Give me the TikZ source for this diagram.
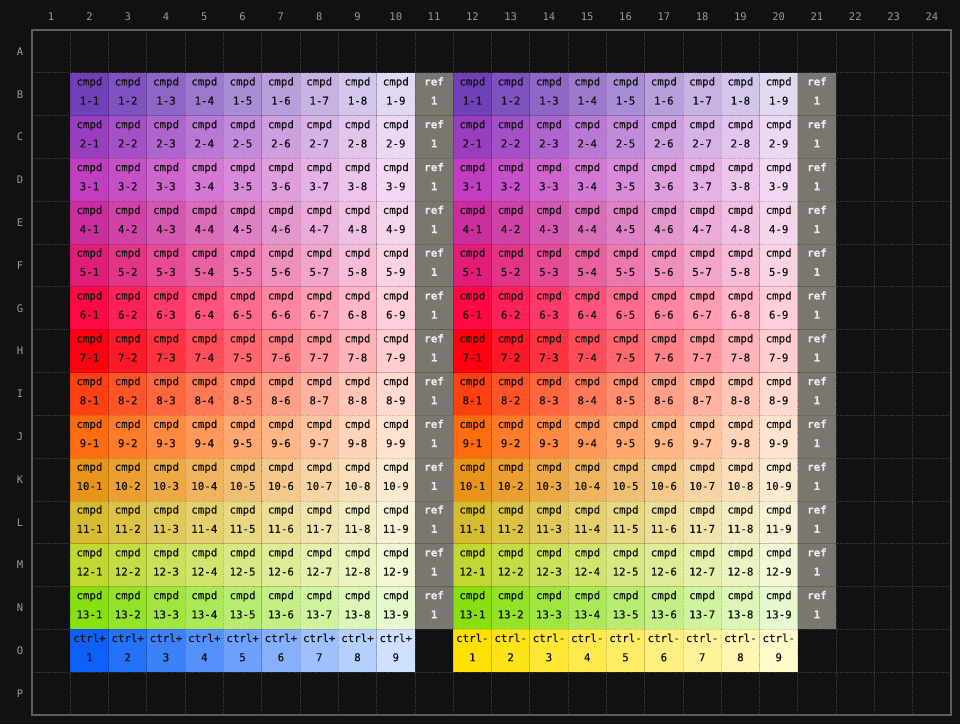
\documentclass[tikz,border=0pt]{standalone}
\usepackage{fontspec}
\setmonofont{DejaVu Sans Mono}
\newfontfamily\cellfont[FakeBold=0.3]{DejaVu Sans Mono}
\newfontfamily\reffont[FakeBold=0.3]{DejaVu Sans Mono Bold}
\definecolor{bg}{HTML}{111111}
\definecolor{gridc}{HTML}{3A3A3A}
\definecolor{framec}{HTML}{5E5E5E}
\definecolor{axisc}{HTML}{9A9A9A}
\definecolor{refc}{HTML}{7A7770}
\definecolor{txtc}{HTML}{121212}
\definecolor{r1}{HTML}{7040B8}
\definecolor{r2}{HTML}{9A3EC0}
\definecolor{r3}{HTML}{C03EC0}
\definecolor{r4}{HTML}{CA2E9C}
\definecolor{r5}{HTML}{E01E78}
\definecolor{r6}{HTML}{FF0844}
\definecolor{r7}{HTML}{FF0010}
\definecolor{r8}{HTML}{FF4010}
\definecolor{r9}{HTML}{FF6C10}
\definecolor{r10}{HTML}{E89418}
\definecolor{r11}{HTML}{D8BC30}
\definecolor{r12}{HTML}{C0D830}
\definecolor{r13}{HTML}{88E010}
\definecolor{r14}{HTML}{0C62F8}
\definecolor{r15}{HTML}{FFE000}
\tikzset{
  gridline/.style={gridc, densely dotted, line width=0.8pt},
  cellborder/.style={draw=black, draw opacity=0.18, densely dotted, line width=0.8pt},
  celltext/.style={anchor=base, inner sep=0pt, text=txtc, font=\cellfont\fontsize{10.8}{12}\selectfont},
  reftext/.style={anchor=base, inner sep=0pt, text=white!92!black, font=\reffont\fontsize{10.8}{12}\selectfont},
  axis/.style={inner sep=0pt, text=axisc, font=\ttfamily\fontsize{10.5}{12}\selectfont},
  frame/.style={draw=framec, line width=1.6pt}
}
\begin{document}
\begin{tikzpicture}[x=1pt,y=-1pt]
\fill[bg] (0,0) rectangle (960,724);
\useasboundingbox (0,0) rectangle (960,724);
\def\cw{38.2917}
\def\ch{42.8125}
\def\xo{32}
\def\yo{30}
% background grid
\foreach \i in {1,...,23} {
  \draw[gridline] ({\xo+\i*\cw},\yo) -- ({\xo+\i*\cw},715);
}
\foreach \i in {1,...,15} {
  \draw[gridline] (\xo,{\yo+\i*\ch}) -- (951,{\yo+\i*\ch});
}
% axis labels
\foreach \i in {1,...,24} {
  \node[axis] (col\i) at ({\xo+(\i-0.5)*\cw},17) {\i};
}
\foreach \L [count=\r] in {A,B,C,D,E,F,G,H,I,J,K,L,M,N,O,P} {
  \node[axis] (row\L) at (20,{\yo+(\r-0.5)*\ch}) {\L};
}
% compound wells
\foreach \r in {1,...,13} {
  \foreach \j in {1,...,9} {
    \pgfmathtruncatemacro\pct{100-(\j-1)*10}
    \foreach \off/\side in {1/L,11/R} {
      \pgfmathsetmacro\xl{\xo+(\off+\j-1)*\cw}
      \pgfmathsetmacro\yt{\yo+\r*\ch}
      \fill[r\r!\pct!white] (\xl,\yt) rectangle ++(\cw,\ch);
      \draw[cellborder] (\xl,\yt) rectangle ++(\cw,\ch);
      \node[celltext] (a\side-\r-\j) at ({\xl+\cw/2},{\yt+12.6}) {cmpd};
      \node[celltext] (b\side-\r-\j) at ({\xl+\cw/2},{\yt+31.8}) {\r-\j};
    }
  }
  % reference wells
  \foreach \c/\side in {11/L,21/R} {
    \pgfmathsetmacro\xl{\xo+(\c-1)*\cw}
    \pgfmathsetmacro\yt{\yo+\r*\ch}
    \fill[refc] (\xl,\yt) rectangle ++(\cw,\ch);
    \draw[cellborder] (\xl,\yt) rectangle ++(\cw,\ch);
    \node[reftext] (refa\side-\r) at ({\xl+\cw/2},{\yt+12.6}) {ref};
    \node[reftext] (refb\side-\r) at ({\xl+\cw/2},{\yt+31.8}) {1};
  }
}
% control wells
\foreach \j in {1,...,9} {
  \pgfmathtruncatemacro\pct{100-(\j-1)*10}
  \foreach \off/\side/\col/\lab in {1/P/r14/ctrl+,11/N/r15/ctrl-} {
    \pgfmathsetmacro\xl{\xo+(\off+\j-1)*\cw}
    \pgfmathsetmacro\yt{\yo+14*\ch}
    \fill[\col!\pct!white] (\xl,\yt) rectangle ++(\cw,\ch);
    \draw[cellborder] (\xl,\yt) rectangle ++(\cw,\ch);
    \node[celltext] (ctla\side-\j) at ({\xl+\cw/2},{\yt+12.6}) {\lab};
    \node[celltext] (ctlb\side-\j) at ({\xl+\cw/2},{\yt+31.8}) {\j};
  }
}
% frame
\draw[frame] (\xo,\yo) rectangle (951,715);
\end{tikzpicture}
\end{document}
